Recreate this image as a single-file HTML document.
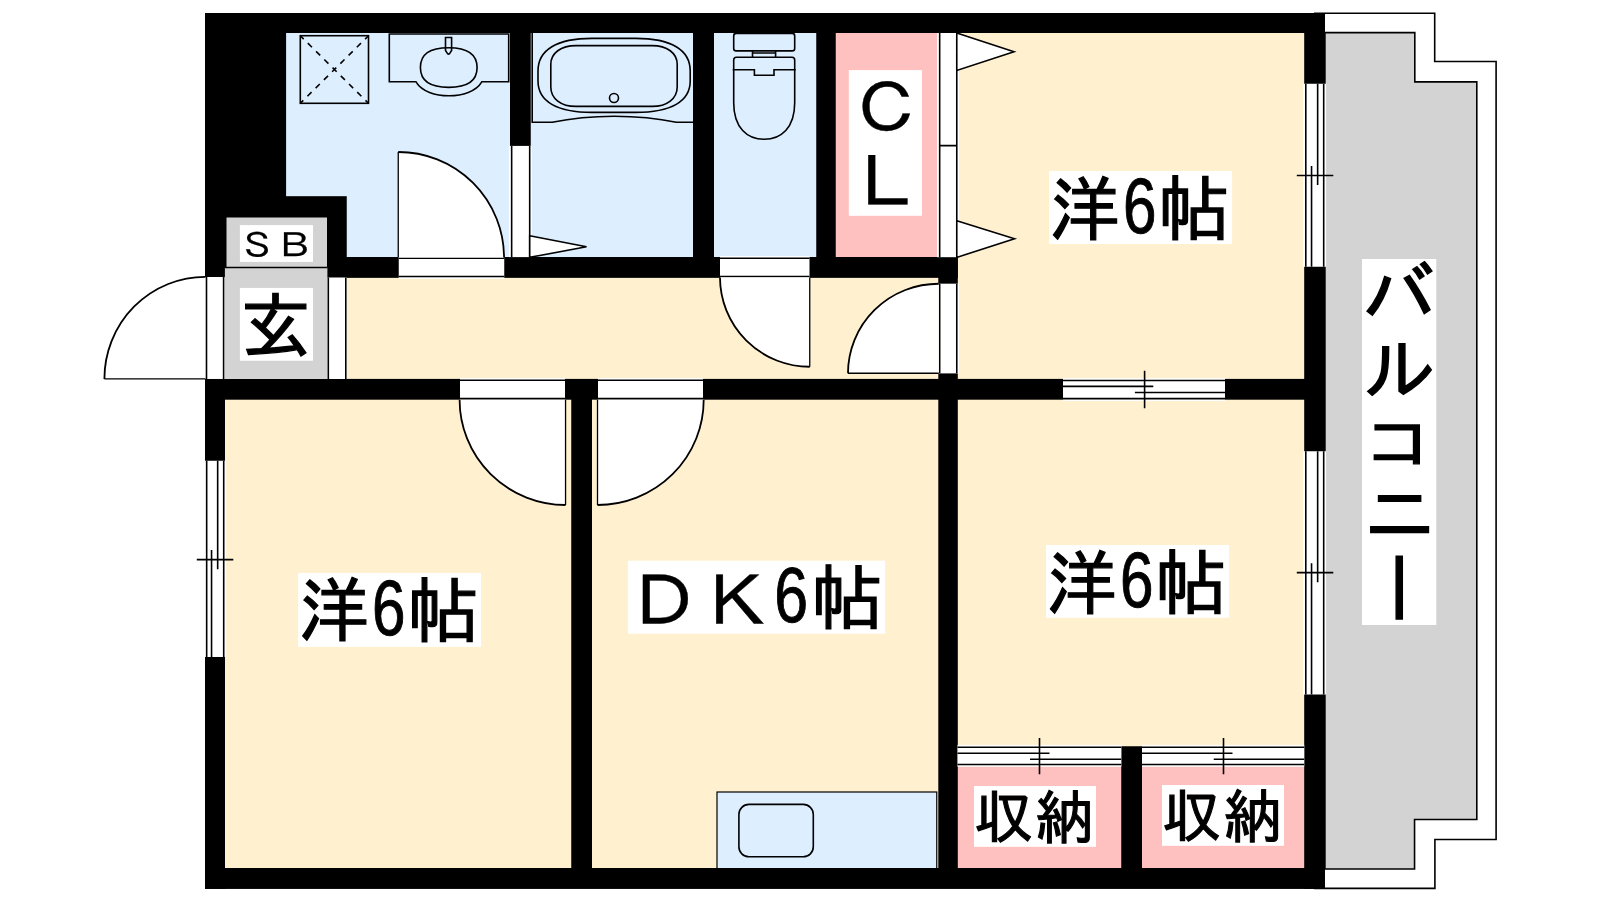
<!DOCTYPE html>
<html lang="ja">
<head>
<meta charset="utf-8">
<title>間取り図</title>
<style>
html,body{margin:0;padding:0;background:#fff;}
body{width:1600px;height:900px;overflow:hidden;}
svg{display:block;will-change:transform;}
text{font-family:"Liberation Sans","IPAGothic",sans-serif;fill:#000;}
.ln{stroke:#000;stroke-width:1.6;fill:none;}
.fx{stroke:#000;stroke-width:1.6;fill:none;}
.wd{stroke:#000;stroke-width:1.6;fill:#fff;}
.arc{stroke:#000;stroke-width:1.8;fill:none;}
.leaf{stroke:#000;stroke-width:1.3;fill:none;}
.lb{stroke:#000;stroke-linejoin:miter;text-rendering:geometricPrecision;}
</style>
</head>
<body>
<svg width="1600" height="900" viewBox="0 0 1600 900">
<rect x="0" y="0" width="1600" height="900" fill="#fff"/>

<!-- ===== room fills ===== -->
<g id="fills">
  <!-- wet areas (blue) -->
  <rect x="286" y="33" width="225" height="225" fill="#ddeeff"/>
  <rect x="530" y="33" width="164" height="225" fill="#ddeeff"/>
  <rect x="713" y="33" width="104" height="225" fill="#ddeeff"/>
  <!-- closet CL (pink) -->
  <rect x="835" y="33" width="104" height="225" fill="#ffc0c0"/>
  <!-- rooms (beige) -->
  <rect x="957" y="33" width="348" height="347" fill="#fff0d0"/>
  <rect x="345.5" y="277" width="594" height="103" fill="#fff0d0"/>
  <rect x="225" y="399" width="347" height="470" fill="#fff0d0"/>
  <rect x="591" y="399" width="348" height="470" fill="#fff0d0"/>
  <rect x="957" y="399" width="348" height="348" fill="#fff0d0"/>
  <!-- closets bottom (pink) -->
  <rect x="957" y="766.25" width="165" height="102" fill="#ffc0c0"/>
  <rect x="1141" y="766.25" width="164" height="102" fill="#ffc0c0"/>
</g>

<!-- ===== balcony ===== -->
<g id="balcony">
  <path d="M1324.9 32.6H1414.8V81.85H1476.8V819.55H1414.55V869H1324.9Z" fill="#d3d3d3" stroke="#000" stroke-width="1.6"/>
  <path class="ln" d="M1314 13.3H1434.7V61.5H1496.1V839.45H1434.9V888.4H1314"/>
</g>

<!-- ===== walls ===== -->
<g id="walls" fill="#000">
  <!-- top -->
  <rect x="205" y="13" width="1120" height="20"/>
  <!-- upper-left block -->
  <rect x="205" y="13" width="81.1" height="264.8"/>
  <rect x="205" y="196.2" width="141.75" height="81.6"/>
  <!-- left wall lower -->
  <rect x="205" y="378.9" width="20" height="509.85"/>
  <!-- bottom -->
  <rect x="205" y="868" width="1120" height="20.75"/>
  <!-- right -->
  <rect x="1304.2" y="13" width="20.8" height="875.75"/>
  <!-- horizontal y=257 -->
  <rect x="346" y="257" width="611.8" height="20.85"/>
  <!-- horizontal y=379 -->
  <rect x="205" y="378.9" width="1100" height="20.8"/>
  <!-- verticals -->
  <rect x="510" y="33" width="20.75" height="225"/>
  <rect x="693" y="33" width="21" height="225"/>
  <rect x="816.25" y="33" width="19.5" height="225"/>
  <rect x="938.3" y="257" width="19.5" height="26.9"/>
  <rect x="938.3" y="373.2" width="19.5" height="496"/>
  <rect x="571.25" y="399" width="20.75" height="470"/>
  <rect x="1121.25" y="746.25" width="20.75" height="122"/>
</g>

<!-- ===== genkan / SB ===== -->
<g id="genkan">
  <rect x="226.5" y="217.5" width="100.5" height="50" fill="#d3d3d3"/>
  <rect x="224.9" y="267.6" width="102.5" height="111.3" fill="#d3d3d3"/>
  <line class="ln" stroke-width="1.3" x1="224.9" y1="267.5" x2="327.4" y2="267.5"/>
  <rect x="205.1" y="277" width="19.8" height="101.9" fill="#fff"/>
  <rect x="327.4" y="277.6" width="19.6" height="101.3" fill="#fff"/>
  <path class="ln" stroke-width="1.4" d="M206.5 277V378.9M223.6 277V378.9M328.3 277.6V378.9M345.8 277.6V378.9"/>
  <!-- entrance door -->
  <path class="leaf" d="M205.5 378.9H104.4"/>
  <path class="arc" d="M104.4 378.9A101 102.1 0 0 1 205.4 276.8"/>
</g>

<!-- ===== doors ===== -->
<g id="doors">
  <!-- washroom door -->
  <rect x="398.75" y="255.9" width="105.5" height="23.05" fill="#fff"/>
  <path class="ln" d="M398.75 258.3H504.25M398.75 276.55H504.25"/>
  <path fill="#fff" d="M398.25 257.6V152A105.8 105.6 0 0 1 504.05 257.6Z"/>
  <path class="leaf" d="M398.25 257.6V152"/>
  <path class="arc" d="M398.25 152A105.8 105.6 0 0 1 504.05 257.6"/>
  <!-- bath sliding door -->
  <rect x="508.9" y="145.9" width="23.1" height="111.2" fill="#fff"/>
  <path class="ln" d="M511.65 145.9V257.2M529.7 145.9V257.2"/>
  <path class="wd" d="M529.7 235.75L586.5 246.75L529.7 257.4Z"/>
  <!-- toilet door -->
  <rect x="720" y="255.9" width="89.5" height="23.05" fill="#fff"/>
  <path class="ln" d="M720 258.3H809.5M720 276.55H809.5"/>
  <path fill="#fff" d="M720 277.6A89.75 89.4 0 0 0 809.75 366.75V277.6Z"/>
  <path class="leaf" d="M809.75 366.75V277.6"/>
  <path class="arc" d="M720 277.6A89.75 89.4 0 0 0 809.75 366.75"/>
  <!-- CL folding door -->
  <rect x="937" y="33" width="22" height="224.2" fill="#fff"/>
  <path class="ln" d="M939.67 33V257.2M956.78 33V257.2M939.67 145.6H956.78"/>
  <path class="wd" d="M956.78 33L1014 51.75L956.78 70.5Z"/>
  <path class="wd" d="M956.78 220.75L1014.5 238.75L956.78 257.4Z"/>
  <!-- upper-right room door -->
  <rect x="938.75" y="283.75" width="20.25" height="89.5" fill="#fff"/>
  <path class="ln" d="M939.67 283.75V373.25M956.78 283.75V373.25"/>
  <path fill="#fff" d="M938.75 283.75A90.75 89.5 0 0 0 848 373.25H938.75Z"/>
  <path class="leaf" d="M848 373.25H938.75"/>
  <path class="arc" d="M938.75 283.75A90.75 89.5 0 0 0 848 373.25"/>
  <!-- lower-left room door -->
  <rect x="460" y="377.95" width="105" height="21.7" fill="#fff"/>
  <path class="ln" d="M460 380.3H565M460 398.6H565"/>
  <path fill="#fff" d="M565.55 399.7V505A106 105.3 0 0 1 459.6 399.7Z"/>
  <path class="leaf" d="M565.55 399.7V505"/>
  <path class="arc" d="M565.55 505A106 105.3 0 0 1 459.6 399.7"/>
  <!-- DK door -->
  <rect x="598" y="377.95" width="105" height="21.7" fill="#fff"/>
  <path class="ln" d="M598 380.3H703M598 398.6H703"/>
  <path fill="#fff" d="M597.5 399.7V505A106.2 105.3 0 0 0 703.7 399.7Z"/>
  <path class="leaf" d="M597.5 399.7V505"/>
  <path class="arc" d="M597.5 505A106.2 105.3 0 0 0 703.7 399.7"/>
</g>

<!-- ===== windows ===== -->
<g id="windows">
  <!-- right upper -->
  <rect x="1303.05" y="83.75" width="23.05" height="183" fill="#fff"/>
  <path class="ln" d="M1305.8 83.75V266.75M1323.7 83.75V266.75M1317.65 83.75V185M1311.55 166.1V266.75M1296.8 175.55H1333.3"/>
  <!-- right lower -->
  <rect x="1303.05" y="451.25" width="23.05" height="243.25" fill="#fff"/>
  <path class="ln" d="M1305.8 451.25V694.5M1323.7 451.25V694.5M1317.65 451.25V582.2M1311.55 563.2V694.5M1296.8 572.6H1333.3"/>
  <!-- left -->
  <rect x="203.9" y="460.75" width="22.2" height="196.25" fill="#fff"/>
  <path class="ln" d="M206.67 460.75V657M223.72 460.75V657M217.67 460.75V569.2M211.55 550V657M196.8 559.6H233.3"/>
  <!-- sliding door between right rooms -->
  <rect x="1063" y="378.05" width="162" height="22.95" fill="#fff"/>
  <path class="ln" d="M1063 380.45H1225M1063 398.6H1225M1063 386.4H1153.3M1134.9 392.5H1225M1144.6 370.8V408.3"/>
  <!-- closet sliding doors -->
  <rect x="957.5" y="744.9" width="163.75" height="21.8" fill="#fff"/>
  <path class="ln" d="M957.5 747.3H1121.25M957.5 764.5H1121.25M957.5 753.25H1049.5M1030 759.3H1121.25M1039.5 738V774.25"/>
  <rect x="1142" y="744.9" width="162.2" height="21.8" fill="#fff"/>
  <path class="ln" d="M1142 747.3H1304.2M1142 764.5H1304.2M1142 753.25H1232.5M1213.75 759.3H1304.2M1223.5 738V774.25"/>
</g>

<!-- ===== fixtures ===== -->
<g id="fixtures">
  <!-- washing machine pan -->
  <rect class="fx" x="300.3" y="35.7" width="68.2" height="67.6" stroke-width="1.8"/>
  <path class="fx" stroke-width="1.5" stroke-dasharray="5.8 5.8" stroke-dashoffset="1" d="M300.3 35.7L368.5 103.3M368.5 35.7L300.3 103.3"/>
  <!-- wash basin -->
  <path class="fx" stroke-width="1.8" d="M389.3 34H508.7V81.8H481.8C476 91.5 462.5 95.7 448.9 95.7C435.3 95.7 421.8 91.5 416 81.8H389.3Z"/>
  <path class="fx" stroke-width="1.9" d="M448.75 47.70C468.03 47.70 477.10 54.05 477.10 67.55C477.10 81.05 468.03 87.40 448.75 87.40C429.47 87.40 420.40 81.05 420.40 67.55C420.40 54.05 429.47 47.70 448.75 47.70Z"/>
  <path class="fx" stroke-width="1.5" fill="#ddeeff" d="M445.5 37.5H451.6V50.5L449.6 53.6Q448.55 54.6 447.5 53.6L445.5 50.5Z"/>
  <!-- bathtub -->
  <path class="fx" d="M532.2 33V122.3H552.2C575 117.5 596 116.2 614 116.2C632 116.2 654 117.5 676.3 122.3H693"/>
  <path class="fx" stroke-width="1.9" d="M592 38.4H635.5C671.1 38.4 690.2 49.8 690.2 71V81C690.2 101.4 671.1 112.4 635.5 112.4H592C556.9 112.4 538 101.4 538 81V71C538 49.8 556.9 38.4 592 38.4Z"/>
  <path class="fx" stroke-width="1.9" d="M576 45.6H652C667.1 45.6 677.2 53.1 677.2 64.3V87C677.2 98.6 667.1 106.4 652 106.4H576C560.9 106.4 550.8 98.6 550.8 87V64.3C550.8 53.1 560.9 45.6 576 45.6Z"/>
  <circle class="fx" cx="614" cy="98" r="4.5" stroke-width="1.7"/>
  <!-- toilet -->
  <rect class="fx" x="733.7" y="33.4" width="61" height="17.5" rx="2.5" ry="2.5"/>
  <path class="fx" d="M752.5 50.9V57.3M775.6 50.9V57.3M752.5 53H775.6"/>
  <path class="fx" d="M736.4 57.3H792Q794.7 57.3 794.7 60V102.7C794.7 128 781 139.3 764.2 139.3C747.4 139.3 733.7 128 733.7 102.7V60Q733.7 57.3 736.4 57.3Z"/>
  <path class="fx" d="M732.7 69.7H754.4V75.3H774V69.7H795.7"/>
  <!-- kitchen -->
  <rect x="717" y="792" width="219.75" height="77" fill="#ddeeff" stroke="#000" stroke-width="1.2"/>
  <rect class="fx" x="738.9" y="804.4" width="74.4" height="52.4" rx="10" ry="10"/>
</g>
<!-- bottom wall over kitchen bottom stroke -->
<rect x="205" y="868" width="1120" height="20.75" fill="#000"/>

<!-- LABELS-START -->
<g id="labels">
  <rect x="1049" y="171" width="183.10" height="73.00" fill="#fff"/>
  <text class="lb"><tspan x="1049.60" y="234.50" font-size="71.05" stroke-width="1.2" textLength="70.40" lengthAdjust="spacingAndGlyphs">洋</tspan><tspan x="1123.00" y="232.75" font-size="78.29" stroke-width="1" textLength="33.45" lengthAdjust="spacingAndGlyphs">6</tspan><tspan x="1157.80" y="234.70" font-size="71.50" stroke-width="1.2" textLength="72.36" lengthAdjust="spacingAndGlyphs">帖</tspan></text>
  <rect x="298.1" y="572.9" width="182.90" height="74.00" fill="#fff"/>
  <text class="lb"><tspan x="298.70" y="636.40" font-size="71.05" stroke-width="1.2" textLength="70.40" lengthAdjust="spacingAndGlyphs">洋</tspan><tspan x="372.10" y="634.65" font-size="78.29" stroke-width="1" textLength="33.45" lengthAdjust="spacingAndGlyphs">6</tspan><tspan x="406.90" y="636.60" font-size="71.50" stroke-width="1.2" textLength="72.36" lengthAdjust="spacingAndGlyphs">帖</tspan></text>
  <rect x="1046" y="545" width="183.10" height="72.75" fill="#fff"/>
  <text class="lb"><tspan x="1046.60" y="608.50" font-size="71.05" stroke-width="1.2" textLength="70.40" lengthAdjust="spacingAndGlyphs">洋</tspan><tspan x="1120.00" y="606.75" font-size="78.29" stroke-width="1" textLength="33.45" lengthAdjust="spacingAndGlyphs">6</tspan><tspan x="1154.80" y="608.70" font-size="71.50" stroke-width="1.2" textLength="72.36" lengthAdjust="spacingAndGlyphs">帖</tspan></text>
  <rect x="627.9" y="560.75" width="257.20" height="72.95" fill="#fff"/>
  <text class="lb"><tspan x="626.00" y="626.65" font-size="69.79" stroke-width="0.4" textLength="75.71" lengthAdjust="spacingAndGlyphs">Ｄ</tspan><tspan x="698.65" y="626.65" font-size="69.79" stroke-width="0.4" textLength="76.72" lengthAdjust="spacingAndGlyphs">Ｋ</tspan><tspan x="774.25" y="622.40" font-size="78.15" stroke-width="1" textLength="33.81" lengthAdjust="spacingAndGlyphs">6</tspan><tspan x="811.00" y="624.35" font-size="71.28" stroke-width="1.2" textLength="72.24" lengthAdjust="spacingAndGlyphs">帖</tspan></text>
  <rect x="848.8" y="70.1" width="73.15" height="145.70" fill="#fff"/>
  <text class="lb"><tspan x="850.65" y="133.35" font-size="67.06" stroke-width="0.4" textLength="72.08" lengthAdjust="spacingAndGlyphs">Ｃ</tspan><tspan x="850.40" y="208.00" font-size="70.43" stroke-width="0.4" textLength="72.35" lengthAdjust="spacingAndGlyphs">Ｌ</tspan></text>
  <rect x="239.9" y="225.1" width="73.10" height="36.80" fill="#fff"/>
  <text class="lb"><tspan x="238.35" y="257.55" font-size="34.07" stroke-width="0.2" textLength="37.98" lengthAdjust="spacingAndGlyphs">Ｓ</tspan><tspan x="274.25" y="257.70" font-size="34.43" stroke-width="0.2" textLength="40.32" lengthAdjust="spacingAndGlyphs">Ｂ</tspan></text>
  <rect x="239.9" y="287.9" width="73.10" height="72.85" fill="#fff"/>
  <text class="lb"><tspan x="240.15" y="351.95" font-size="71.58" stroke-width="1.2" textLength="71.01" lengthAdjust="spacingAndGlyphs">玄</tspan></text>
  <rect x="974" y="786" width="122.00" height="60.80" fill="#fff"/>
  <text class="lb"><tspan x="974.00" y="837.50" font-size="58.44" stroke-width="1.1" textLength="59.40" lengthAdjust="spacingAndGlyphs">収</tspan><tspan x="1035.00" y="839.00" font-size="58.51" stroke-width="1.1" textLength="58.47" lengthAdjust="spacingAndGlyphs">納</tspan></text>
  <rect x="1162" y="785" width="122.00" height="60.80" fill="#fff"/>
  <text class="lb"><tspan x="1162.00" y="836.50" font-size="58.44" stroke-width="1.1" textLength="59.40" lengthAdjust="spacingAndGlyphs">収</tspan><tspan x="1223.20" y="838.00" font-size="58.51" stroke-width="1.1" textLength="58.47" lengthAdjust="spacingAndGlyphs">納</tspan></text>
  <rect x="1362" y="259" width="74.25" height="366.00" fill="#fff"/>
  <text class="lb"><tspan x="1362.45" y="322.35" font-size="74.58" stroke-width="1.4" textLength="73.06" lengthAdjust="spacingAndGlyphs">バ</tspan><tspan x="1363.70" y="395.30" font-size="70.42" stroke-width="1.4" textLength="72.16" lengthAdjust="spacingAndGlyphs">ル</tspan><tspan x="1363.75" y="465.00" font-size="61.19" stroke-width="1.4" textLength="69.88" lengthAdjust="spacingAndGlyphs">コ</tspan><tspan x="1363.25" y="540.00" font-size="72.51" stroke-width="1.4" textLength="72.69" lengthAdjust="spacingAndGlyphs">ニ</tspan><tspan x="1369.50" y="549.25" font-size="76.98" stroke-width="1.4" rotate="90">ー</tspan></text>
</g>
<!-- LABELS-END -->
</svg>
</body>
</html>
